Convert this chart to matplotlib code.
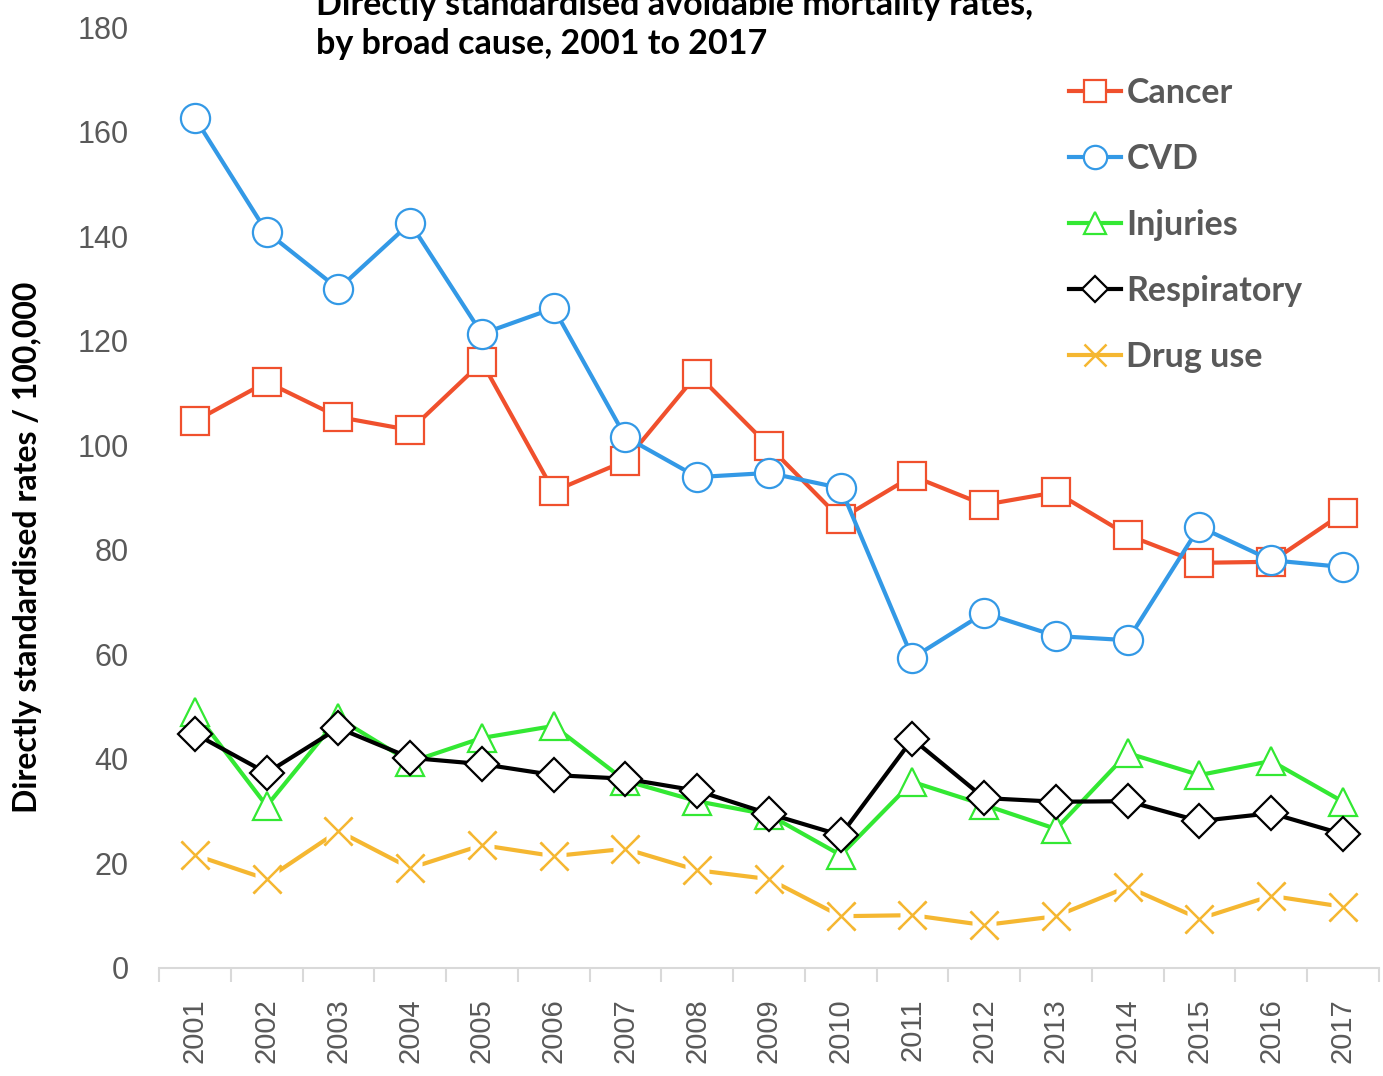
import numpy as np
import matplotlib.pyplot as plt

years = [str(y) for y in range(2001, 2018)]

cancer = [104.6, 112.1, 105.4, 102.9, 115.9, 91.2, 97.0, 113.6, 99.8,
          85.9, 94.1, 88.6, 91.0, 82.8, 77.5, 77.7, 87.0]
cvd = [162.6, 140.8, 129.9, 142.5, 121.3, 126.2, 101.6, 93.9, 94.7,
       91.8, 59.3, 67.9, 63.5, 62.7, 84.4, 78.0, 76.7]
injuries = [49.0, 31.0, 47.8, 39.4, 44.0, 46.3, 35.8, 31.9, 29.3,
            21.6, 35.6, 31.2, 26.6, 41.1, 36.9, 39.6, 31.8]
respiratory = [44.8, 37.3, 45.9, 40.2, 39.0, 36.9, 36.2, 33.9, 29.5,
               25.4, 43.8, 32.5, 31.8, 31.9, 28.1, 29.6, 25.6]
drug_use = [21.6, 17.0, 26.2, 19.1, 23.5, 21.4, 22.8, 18.7, 17.0,
            9.9, 10.1, 8.2, 9.9, 15.5, 9.4, 13.8, 11.7]

grey = '#595959'
x = np.arange(len(years))

fig = plt.figure(figsize=(13.83, 10.76), dpi=100)
ax = fig.add_axes([0.115, 0.1004, 0.882, 0.8745])

ax.plot(x, cancer, color='#F0502D', lw=3, marker='s', ms=20, mfc='white',
        mec='#F0502D', mew=1.6, label='Cancer', zorder=3)
ax.plot(x, cvd, color='#3399E6', lw=3, marker='o', ms=21, mfc='white',
        mec='#3399E6', mew=1.6, label='CVD', zorder=4)
ax.plot(x, injuries, color='#33E833', lw=3, marker='^', ms=20, mfc='white',
        mec='#33E833', mew=1.6, label='Injuries', zorder=5)
ax.plot(x, respiratory, color='black', lw=3, marker='D', ms=17, mfc='white',
        mec='black', mew=1.6, label='Respiratory', zorder=6)
# white backing so the line breaks around each cross
ax.plot(x, drug_use, ls='none', marker='s', ms=17, mfc='white', mec='none', zorder=7)
ax.plot(x, drug_use, color='#F5B731', lw=3, marker='x', ms=20, mew=1.8,
        label='Drug use', zorder=6)
ax.plot(x, drug_use, ls='none', marker='x', ms=20, mec='#F5B731', mew=1.8, zorder=8)

ax.set_xlim(-0.5, len(years) - 0.5)
ax.set_ylim(0, 180)
ax.set_yticks(range(0, 181, 20))
ax.set_xticks(x)
ax.set_xticklabels(years, rotation=90)
ax.set_xticks(np.arange(-0.5, len(years), 1), minor=True)

for s in ['top', 'right', 'left']:
    ax.spines[s].set_visible(False)
ax.spines['bottom'].set_color('#D9D9D9')
ax.spines['bottom'].set_linewidth(1.5)
ax.tick_params(axis='x', which='major', length=0, pad=22, labelsize=21,
               labelcolor=grey, labelfontfamily='Liberation Sans')
ax.tick_params(axis='x', which='minor', length=10, width=1.5, color='#D9D9D9')
ax.tick_params(axis='y', length=0, pad=22, labelsize=22, labelcolor=grey,
               labelfontfamily='Liberation Sans')

fig.text(0.020, 0.491, 'Directly standardised rates / 100,000', rotation=90,
         ha='center', va='center', fontsize=23, fontweight='bold', family='Lato')

fig.text(0.2285, 0.9865, 'Directly standardised avoidable mortality rates,',
         ha='left', va='baseline', fontsize=24.5, fontweight='bold', family='Lato')
fig.text(0.2285, 0.9495, 'by broad cause, 2001 to 2017',
         ha='left', va='baseline', fontsize=24.5, fontweight='bold', family='Lato')

handles, labels = ax.get_legend_handles_labels()
leg = fig.legend(handles, labels, loc='upper left', bbox_to_anchor=(0.7505, 0.957),
                 frameon=False, handlelength=1.55, handletextpad=0.15,
                 labelspacing=1.0, markerscale=0.8,
                 prop={'family': 'Lato', 'weight': 'bold', 'size': 24.5})
for t in leg.get_texts():
    t.set_color(grey)

fig.savefig('out.png', dpi=100)
